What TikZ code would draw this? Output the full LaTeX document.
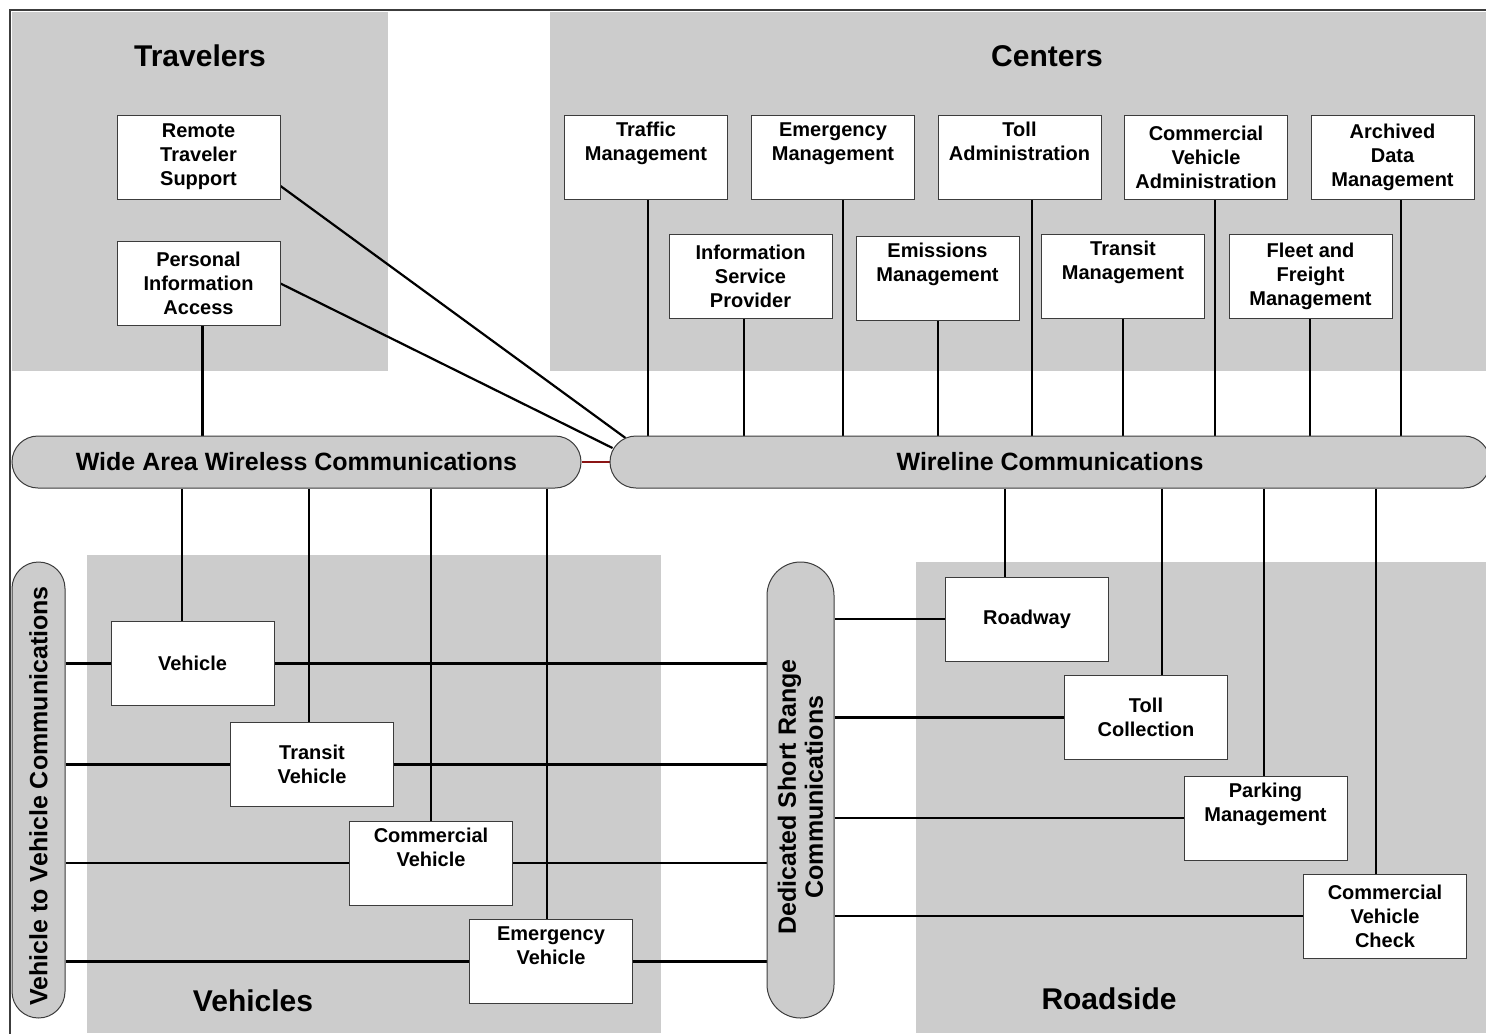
\documentclass[tikz,border=0pt]{standalone}
\usepackage{fontspec}
\setmainfont{Liberation Sans}
\usetikzlibrary{backgrounds}
\definecolor{areaGray}{RGB}{204,204,204}
\definecolor{edgeGray}{RGB}{60,60,60}
\definecolor{linkRed}{RGB}{139,20,20}

\begin{document}
\begin{tikzpicture}[x=0.5pt, y=-0.5pt,
    font=\bfseries\fontsize{10}{12}\selectfont,
    area/.style={fill=areaGray},
    title/.style={font=\bfseries\fontsize{15}{18}\selectfont},
    unit/.style={draw=edgeGray, line width=0.5pt, fill=white, minimum width=81.5pt, minimum height=42pt, inner sep=0pt, align=center},
    bus/.style={draw=edgeGray, line width=0.5pt, fill=areaGray, inner sep=0pt},
    buslabel/.style={font=\bfseries\fontsize{12.5}{13.5}\selectfont, align=center, inner sep=0pt},
    link/.style={line width=1.1pt}]
  \useasboundingbox (0,0) rectangle (1486,1033);

  % grey areas and frame
  \begin{scope}[on background layer]
    \fill[area] (12,12) rectangle (388,371);
    \fill[area] (550,12) rectangle (1486,371);
    \fill[area] (87,555) rectangle (661,1033);
    \fill[area] (916,562) rectangle (1486,1033);
    \draw[edgeGray, line width=1pt] (1520,10) -- (10,10) -- (10,1050);
  \end{scope}

  \node[title] (travelers) at (200,56) {Travelers};
  \node[title] (centers) at (1047,56) {Centers};
  \node[title] (vehicles) at (253,1001) {Vehicles};
  \node[title] (roadside) at (1109,999) {Roadside};

  % communications
  \node[bus, buslabel, minimum width=284.5pt, minimum height=26pt, rounded corners=13pt] (wide) at (296.5,462) {Wide Area Wireless Communications};
  \node[bus, buslabel, minimum width=440pt, minimum height=26pt, rounded corners=13pt] (wire) at (1050,462) {Wireline Communications};
  \node[bus, minimum width=26.5pt, minimum height=228pt, rounded corners=13.25pt] (v2v) at (38.5,790) {};
  \node[buslabel, rotate=90] (v2vtext) at ([yshift=-3pt]v2v.center) {Vehicle to Vehicle Communications};
  \node[bus, minimum width=33.5pt, minimum height=228pt, rounded corners=16.75pt] (dsrc) at (800.5,790) {};
  \node[buslabel, rotate=90] (dsrctext) at ([yshift=-3.5pt]dsrc.center) {Dedicated Short Range\\Communications};

  % travelers
  \node[unit] (rts) at (198.5,157) {Remote\\Traveler\\Support};
  \node[unit] (pia) at (198.5,283.5) {Personal\\Information\\Access};

  % centers
  \node[unit] (tm) at (646,157) {Traffic\\Management\\\strut};
  \node[unit] (em) at (833,157) {Emergency\\Management\\\strut};
  \node[unit] (ta) at (1019.5,157) {Toll\\Administration\\\strut};
  \node[unit] (cva) at (1206,157) {Commercial\\Vehicle\\Administration};
  \node[unit] (adm) at (1392.5,157) {Archived\\Data\\Management};
  \node[unit] (isp) at (750.5,276) {Information\\Service\\Provider};
  \node[unit] (emm) at (937.5,278) {Emissions\\Management\\\strut};
  \node[unit] (trm) at (1123,276) {Transit\\Management\\\strut};
  \node[unit] (ffm) at (1310.5,276) {Fleet and\\Freight\\Management};

  % vehicles
  \node[unit] (veh) at (192.5,663.5) {Vehicle};
  \node[unit] (tv) at (312,764.5) {Transit\\Vehicle};
  \node[unit] (cv) at (431,863) {Commercial\\Vehicle\\\strut};
  \node[unit] (ev) at (551,961.5) {Emergency\\Vehicle\\\strut};

  % roadside
  \node[unit] (road) at (1027,619) {Roadway};
  \node[unit] (tc) at (1146,717.5) {Toll\\Collection};
  \node[unit] (pm) at (1265.5,818) {Parking\\Management\\\strut};
  \node[unit] (cvc) at (1385,916) {Commercial\\Vehicle\\Check};

  % connections
  \begin{scope}[on background layer]
  \begin{scope}[link]
    \draw ([yshift=-14.5pt]rts.east) -- ([xshift=8pt, yshift=12pt]wire.west);
    \draw (pia.east) -- ([xshift=1.5pt, yshift=7pt]wire.west);
    \draw ([xshift=2pt]pia.south) -- ([xshift=2pt]pia.south |- wide.north);
    \draw[linkRed] (wide.east) -- (wire.west);

    \draw (tm.south -| 648,0) -- (wire.north -| 648,0);
    \draw (isp.south -| 744,0) -- (wire.north -| 744,0);
    \draw (em.south -| 843,0) -- (wire.north -| 843,0);
    \draw (emm.south -| 938,0) -- (wire.north -| 938,0);
    \draw (ta.south -| 1032,0) -- (wire.north -| 1032,0);
    \draw (trm.south -| 1123,0) -- (wire.north -| 1123,0);
    \draw (cva.south -| 1215,0) -- (wire.north -| 1215,0);
    \draw (ffm.south -| 1310,0) -- (wire.north -| 1310,0);
    \draw (adm.south -| 1401,0) -- (wire.north -| 1401,0);

    \draw (wide.south -| 182,0) -- (veh.north -| 182,0);
    \draw (wide.south -| 309,0) -- (tv.north -| 309,0);
    \draw (wide.south -| 431,0) -- (cv.north -| 431,0);
    \draw (wide.south -| 547,0) -- (ev.north -| 547,0);

    \draw (v2v.east |- veh) -- (dsrc.west |- veh);
    \draw (v2v.east |- tv) -- (dsrc.west |- tv);
    \draw (v2v.east |- cv) -- (dsrc.west |- cv);
    \draw (v2v.east |- ev) -- (dsrc.west |- ev);

    \draw (wire.south -| 1005,0) -- (road.north -| 1005,0);
    \draw (wire.south -| 1162,0) -- (tc.north -| 1162,0);
    \draw (wire.south -| 1264,0) -- (pm.north -| 1264,0);
    \draw (wire.south -| 1376,0) -- (cvc.north -| 1376,0);

    \draw (dsrc.east |- road) -- (road.west);
    \draw (dsrc.east |- tc) -- (tc.west);
    \draw (dsrc.east |- pm) -- (pm.west);
    \draw (dsrc.east |- cvc) -- (cvc.west);
  \end{scope}
  \end{scope}
\end{tikzpicture}
\end{document}
